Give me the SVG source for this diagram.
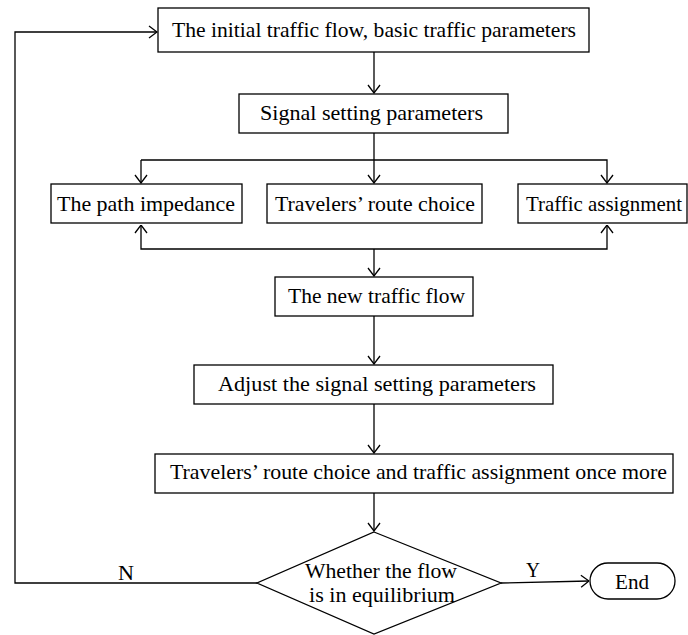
<svg xmlns="http://www.w3.org/2000/svg" width="688" height="635" viewBox="0 0 688 635">
<style>
.box{fill:#fff;stroke:#000;stroke-width:1.3}
.t{font-family:"Liberation Serif","Times New Roman",serif;font-size:22px;fill:#000}
.c{fill:none;stroke:#000;stroke-width:1.3}
</style>
<defs>
<marker id="a" viewBox="0 0 10 14" refX="9.5" refY="7" markerWidth="10" markerHeight="14" markerUnits="userSpaceOnUse" orient="auto">
<path d="M1.5,1 L9.5,7 L1.5,13" fill="none" stroke="#000" stroke-width="1.3"/>
</marker>
</defs>
<rect width="688" height="635" fill="#fff"/>
<g id="connectors">
<path class="c" d="M374,52 V93" marker-end="url(#a)"/>
<path class="c" d="M374,133 V183" marker-end="url(#a)"/>
<path class="c" d="M141,160 H607 V183" marker-end="url(#a)"/>
<path class="c" d="M141,160 V183" marker-end="url(#a)"/>
<path class="c" d="M374,249 H141 V225" marker-end="url(#a)"/>
<path class="c" d="M374,249 H607 V225" marker-end="url(#a)"/>
<path class="c" d="M374,249 V276" marker-end="url(#a)"/>
<path class="c" d="M374,316 V364" marker-end="url(#a)"/>
<path class="c" d="M374,404 V453" marker-end="url(#a)"/>
<path class="c" d="M374,493 V531" marker-end="url(#a)"/>
<path class="c" d="M257,583 H15 V32 H157" marker-end="url(#a)"/>
<path class="c" d="M501,583 L589,581" marker-end="url(#a)"/>
<text class="t" x="118" y="580" textLength="16" lengthAdjust="spacingAndGlyphs">N</text>
<text class="t" x="526" y="577" textLength="14" lengthAdjust="spacingAndGlyphs">Y</text>
</g>
<g id="n1"><rect class="box" x="158" y="8" width="431" height="44"/><text class="t" x="172" y="37" textLength="404" lengthAdjust="spacingAndGlyphs">The initial traffic flow, basic traffic parameters</text></g>
<g id="n2"><rect class="box" x="239" y="94" width="269" height="39"/><text class="t" x="260" y="120" textLength="223" lengthAdjust="spacingAndGlyphs">Signal setting parameters</text></g>
<g id="n3"><rect class="box" x="51" y="184" width="191" height="39"/><text class="t" x="57" y="211" textLength="178" lengthAdjust="spacingAndGlyphs">The path impedance</text></g>
<g id="n4"><rect class="box" x="267" y="184" width="215" height="39"/><text class="t" x="275" y="211" textLength="200" lengthAdjust="spacingAndGlyphs">Travelers’ route choice</text></g>
<g id="n5"><rect class="box" x="518" y="184" width="169" height="39"/><text class="t" x="526" y="211" style="font-size:21px" textLength="156" lengthAdjust="spacingAndGlyphs">Traffic assignment</text></g>
<g id="n6"><rect class="box" x="275" y="277" width="198" height="39"/><text class="t" x="288" y="303" textLength="177" lengthAdjust="spacingAndGlyphs">The new traffic flow</text></g>
<g id="n7"><rect class="box" x="194" y="365" width="359" height="39"/><text class="t" x="218" y="391" textLength="318" lengthAdjust="spacingAndGlyphs">Adjust the signal setting parameters</text></g>
<g id="n8"><rect class="box" x="155" y="454" width="518" height="39"/><text class="t" x="170" y="479" textLength="497" lengthAdjust="spacingAndGlyphs">Travelers’ route choice and traffic assignment once more</text></g>
<g id="n9"><path class="box" d="M374,532 L501,583 L374,634 L257,583 Z"/><text class="t" x="305" y="578" textLength="152" lengthAdjust="spacingAndGlyphs">Whether the flow</text><text class="t" x="309" y="602" textLength="146" lengthAdjust="spacingAndGlyphs">is in equilibrium</text></g>
<g id="n10"><rect class="box" x="590" y="563" width="85" height="36" rx="18"/><text class="t" x="615" y="589" textLength="34" lengthAdjust="spacingAndGlyphs">End</text></g>
</svg>
